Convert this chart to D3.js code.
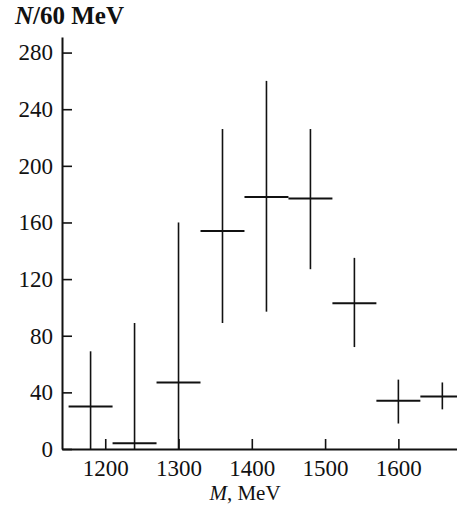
<!DOCTYPE html>
<html>
<head>
<meta charset="utf-8">
<script src="https://cdn.jsdelivr.net/npm/d3@7"></script>
<style>
  body { margin: 0; background: #fff; }
  svg text { font-family: "Liberation Serif", "Times New Roman", serif; fill: #111; }
</style>
</head>
<body>
<svg id="chart"></svg>
<script>
// mass bin centres (MeV), 60 MeV wide
const masses = [1180, 1240, 1300, 1360, 1420, 1480, 1540, 1600, 1660];
// events per bin and error bar ends
const counts = [30, 4, 47, 154, 178, 177, 103, 34, 37];
const errHigh = [69, 89, 160, 226, 260, 226, 135, 49, 47];
const errLow = [0, 0, 0, 89, 97, 127, 72, 18, 28];
const binWidth = 60;

const xTicks = [1200, 1300, 1400, 1500, 1600];
const yTicks = [0, 40, 80, 120, 160, 200, 240, 280];

const data = masses.map((m, i) => ({ m: m, n: counts[i], hi: errHigh[i], lo: errLow[i] }));

const width = 457, height = 507;
const margin = { top: 37, left: 62, right: 0, bottom: 58 };

const svg = d3.select('#chart')
    .attr('width', width)
    .attr('height', height);

const xScale = d3.scaleLinear()
    .domain([1141, 1680])
    .range([margin.left, width - margin.right]);

const yScale = d3.scaleLinear()
    .domain([0, 291])
    .range([height - margin.bottom, margin.top]);

const ink = '#111';

// axes, ticks pointing inward
const xAxis = d3.axisBottom(xScale)
    .tickValues(xTicks)
    .tickFormat(d3.format('d'))
    .tickSizeInner(-10)
    .tickSizeOuter(0)
    .tickPadding(11);

const yAxis = d3.axisLeft(yScale)
    .tickValues(yTicks)
    .tickSizeInner(-10)
    .tickSizeOuter(0)
    .tickPadding(9);

const xAxisG = svg.append('g')
    .attr('transform', `translate(0,${yScale(0)})`)
    .call(xAxis);

const yAxisG = svg.append('g')
    .attr('transform', `translate(${margin.left},0)`)
    .call(yAxis);

[xAxisG, yAxisG].forEach(g => {
    g.select('.domain').attr('stroke', ink).attr('stroke-width', 2);
    g.selectAll('.tick line').attr('stroke', ink).attr('stroke-width', 1.6);
    g.selectAll('.tick text')
        .attr('fill', ink)
        .style('font-size', '23px')
        .style('font-family', '"Liberation Serif", serif');
});

// error bars
const pts = svg.append('g');

pts.selectAll('.vbar')
    .data(data)
    .enter()
    .append('line')
    .attr('class', 'vbar')
    .attr('x1', d => xScale(d.m))
    .attr('x2', d => xScale(d.m))
    .attr('y1', d => yScale(d.lo))
    .attr('y2', d => yScale(d.hi))
    .attr('stroke', ink)
    .attr('stroke-width', 1.6);

pts.selectAll('.hbar')
    .data(data)
    .enter()
    .append('line')
    .attr('class', 'hbar')
    .attr('x1', d => xScale(d.m - binWidth / 2))
    .attr('x2', d => xScale(d.m + binWidth / 2))
    .attr('y1', d => yScale(d.n))
    .attr('y2', d => yScale(d.n))
    .attr('stroke', ink)
    .attr('stroke-width', 2);

// y title
const yTitle = svg.append('text')
    .attr('x', 15)
    .attr('y', 24)
    .style('font-size', '25px')
    .style('font-weight', 'bold');
yTitle.append('tspan').style('font-style', 'italic').text('N');
yTitle.append('tspan').text('/60 MeV');

// x title
const xTitle = svg.append('text')
    .attr('x', 245)
    .attr('y', 500)
    .attr('text-anchor', 'middle')
    .style('font-size', '21px');
xTitle.append('tspan').style('font-style', 'italic').text('M');
xTitle.append('tspan').text(', MeV');
</script>
</body>
</html>
